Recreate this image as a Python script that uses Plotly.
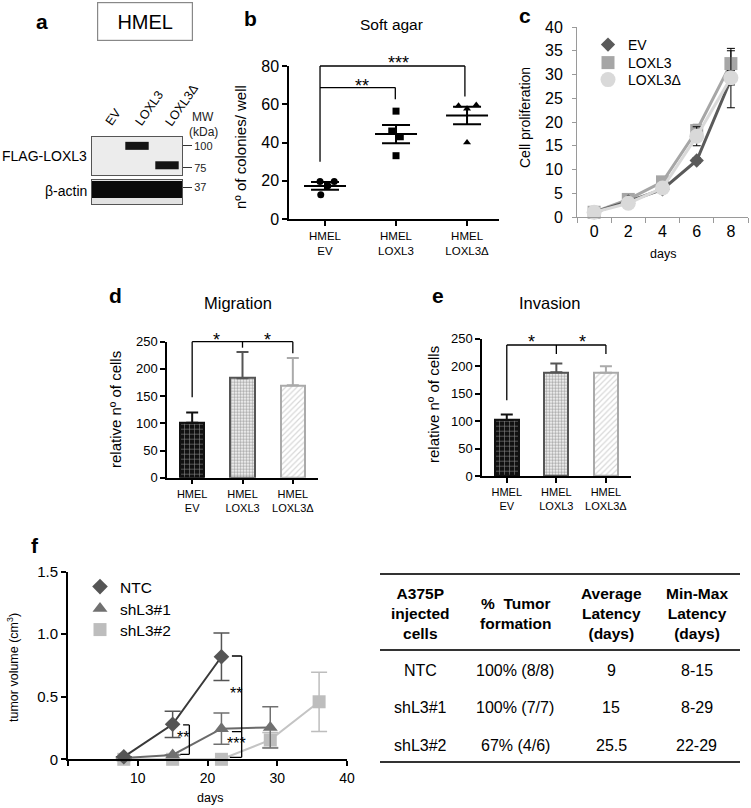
import plotly.graph_objects as go

W, H = 751, 808
FONT = "Liberation Sans, Arial, Helvetica, sans-serif"

# ---------------- data ----------------
# a: western blot
blot_lanes = ["EV", "LOXL3", "LOXL3Δ"]
flag_band_lanes = [1, 2]
flag_band_mw = [100, 78]
actin_band_mw = 36
flag_mw_ticks = [100, 75]
actin_mw_ticks = [37]

# b: soft agar
agar_labels = ["HMEL<br>EV", "HMEL<br>LOXL3", "HMEL<br>LOXL3Δ"]
agar_ev = [19.6, 19.6, 17.4, 12.7]
agar_loxl3 = [56.4, 46.0, 43.0, 33.1]
agar_delta = [59.2, 57.6, 59.6, 40.0]
agar_mean = [17.3, 44.4, 54.1]
agar_sem = [2.0, 4.8, 4.6]

# c: proliferation
prolif_days = [0, 2, 4, 6, 8]
prolif_ev = [1.0, 3.3, 5.8, 11.9, 29.0]
prolif_loxl3 = [1.0, 3.7, 7.4, 18.2, 32.3]
prolif_delta = [1.0, 2.9, 6.1, 17.0, 29.3]
prolif_ev_err = [0.1, 0.2, 0.3, 0.6, 6.0]
prolif_loxl3_err = [0.1, 0.2, 0.4, 1.3, 3.2]
prolif_delta_err = [0.1, 0.2, 0.3, 2.0, 1.5]

# d, e: migration / invasion
cell_labels = ["HMEL<br>EV", "HMEL<br>LOXL3", "HMEL<br>LOXL3Δ"]
migration_mean = [101, 183, 170]
migration_err = [19, 48, 50]
invasion_mean = [102, 189, 188]
invasion_err = [10, 16, 12]

# f: tumor growth
ntc_days = [8, 15, 22]
ntc_vol = [0.02, 0.28, 0.82]
ntc_err = [0.0, 0.105, 0.19]
sh1_days = [8, 15, 22, 29]
sh1_vol = [0.01, 0.035, 0.245, 0.255]
sh1_err = [0.0, 0.0, 0.125, 0.165]
sh2_days = [8, 15, 22, 29, 36]
sh2_vol = [0.0, 0.0, 0.0, 0.155, 0.46]
sh2_err = [0.0, 0.0, 0.0, 0.06, 0.237]

# f: table
table_header = ["A375P<br>injected<br>cells", "%  Tumor<br>formation",
                "Average<br>Latency<br>(days)", "Min-Max<br>Latency<br>(days)"]
table_rows = [["NTC", "100% (8/8)", "9", "8-15"],
              ["shL3#1", "100% (7/7)", "15", "8-29"],
              ["shL3#2", "67% (4/6)", "25.5", "22-29"]]


# ---------------- helpers ----------------
def dx(a, b):
    return [a / W, b / W]


def dy(top, bottom):
    return [1 - bottom / H, 1 - top / H]


def px(x):
    return x / W


def py(y):
    return 1 - y / H


def ax(**kw):
    base = dict(showline=True, linecolor="black", linewidth=1.5, ticks="outside",
                ticklen=5, tickwidth=1.5, tickcolor="black", showgrid=False,
                zeroline=False, fixedrange=True, automargin=False,
                tickfont=dict(size=12, color="black", family=FONT))
    base.update(kw)
    return base


fig = go.Figure()
annotations = []
shapes = []
legends = {}


def text(t, x, y, size=14, bold=False, **kw):
    d = dict(text=("<b>%s</b>" % t) if bold else t, x=x, y=y,
             xref=kw.pop("xref", "paper"), yref=kw.pop("yref", "paper"),
             xanchor=kw.pop("xanchor", "center"), yanchor=kw.pop("yanchor", "middle"),
             showarrow=False,
             font=dict(size=size, color=kw.pop("color", "black"), family=FONT))
    d.update(kw)
    annotations.append(d)


def star(t, x, y, xref, yref, size=18):
    text(t, x, y, size=size, xref=xref, yref=yref, yshift=-0.33 * size)


def seg(xref, yref, x0, y0, x1, y1, width=1.3, color="black"):
    shapes.append(dict(type="line", xref=xref, yref=yref, x0=x0, y0=y0, x1=x1, y1=y1,
                       line=dict(color=color, width=width)))


def legend_entry(idx, name, sym, size, col, xa, ya, lx, ly, fsize):
    lid = "legend" if idx == 1 else "legend%d" % idx
    fig.add_trace(go.Scatter(x=[None], y=[None], mode="markers", name=name,
                             marker=dict(symbol=sym, size=size, color=col),
                             xaxis=xa, yaxis=ya, legend=lid))
    legends[lid] = dict(x=px(lx), y=py(ly), xanchor="left", yanchor="middle",
                        bgcolor="rgba(0,0,0,0)", font=dict(size=fsize, family=FONT),
                        itemclick=False, itemdoubleclick=False)


# ---------------- a: western blot ----------------
shapes.append(dict(type="rect", xref="x6 domain", yref="y6 domain", x0=0, x1=1, y0=0, y1=1,
                   fillcolor="#ececec", line=dict(width=0), layer="below"))
shapes.append(dict(type="rect", xref="x7 domain", yref="y7 domain", x0=0, x1=1, y0=0, y1=1,
                   fillcolor="#e2e2e2", line=dict(width=0), layer="below"))
for lane, mw in zip(flag_band_lanes, flag_band_mw):
    fig.add_trace(go.Scatter(x=[lane - 0.39, lane + 0.39], y=[mw, mw], mode="lines",
                             line=dict(color="#141414", width=8), xaxis="x6", yaxis="y6",
                             showlegend=False, hoverinfo="skip"))
fig.add_trace(go.Scatter(x=[-0.5, len(blot_lanes) - 0.5], y=[actin_band_mw, actin_band_mw],
                         mode="lines", line=dict(color="#0a0a0a", width=17),
                         xaxis="x7", yaxis="y7", showlegend=False, hoverinfo="skip"))
for i, lab in enumerate(blot_lanes):
    text(lab, i, py(131), size=12.5, xref="x6", xanchor="left", yanchor="bottom",
         textangle=-55, xshift=-7)
text("HMEL", px(144.5), py(21), size=20, bordercolor="#888", borderwidth=1.2,
     width=92, height=35)
text("FLAG-LOXL3", px(89), py(156), size=14, xanchor="right")
text("β-actin", px(89), py(191), size=14, xanchor="right")
text("MW", px(203), py(117), size=12, color="#222")
text("(kDa)", px(203), py(132), size=12, color="#222")

# ---------------- b: soft agar ----------------
agar_sets = [(agar_ev, "circle"), (agar_loxl3, "square"), (agar_delta, "triangle-up")]
agar_jitter = [[-0.07, 0.13, 0.04, -0.06], [0.0, -0.06, 0.06, 0.0], [-0.12, 0.0, 0.13, 0.0]]
for i, (vals, sym) in enumerate(agar_sets):
    fig.add_trace(go.Scatter(x=[i + j for j in agar_jitter[i]], y=vals, mode="markers",
                             marker=dict(symbol=sym, size=7, color="black"),
                             xaxis="x", yaxis="y", showlegend=False, cliponaxis=False))
fig.add_trace(go.Scatter(x=[0, 1, 2], y=agar_mean, mode="markers",
                         marker=dict(symbol="line-ew", size=30, color="black",
                                     line=dict(width=2, color="black")),
                         error_y=dict(type="data", array=agar_sem, color="black",
                                      thickness=2, width=14),
                         xaxis="x", yaxis="y", showlegend=False))
# significance brackets (y in domain fraction of 0-80 axis)
bm = 80.0
seg("x", "y domain", -0.07, 80 / bm, 1.97, 80 / bm)
seg("x", "y domain", -0.07, 80 / bm, -0.07, 30 / bm)
seg("x", "y domain", 1.97, 80 / bm, 1.97, 64 / bm)
seg("x", "y domain", -0.07, 68.7 / bm, 0.99, 68.7 / bm)
seg("x", "y domain", 0.99, 68.7 / bm, 0.99, 62.6 / bm)
star("**", 0.52, 72.5 / bm, "x", "y domain")
star("***", 1.03, 84.5 / bm, "x", "y domain")
text("Soft agar", px(391), py(24), size=15.5)
text("nº of colonies/ well", px(240), py(147), size=15, textangle=-90)

# ---------------- c: proliferation ----------------
prolif_series = [("LOXL3", prolif_loxl3, prolif_loxl3_err, "square", "#a6a6a6", 13),
                 ("EV", prolif_ev, prolif_ev_err, "diamond", "#5a5a5a", 11),
                 ("LOXL3Δ", prolif_delta, prolif_delta_err, "circle", "#d9d9d9", 15)]
for name, vals, errs, sym, col, sz in prolif_series:
    fig.add_trace(go.Scatter(x=prolif_days, y=vals, mode="lines+markers", name=name,
                             line=dict(color=col, width=3),
                             marker=dict(symbol=sym, size=sz, color=col),
                             error_y=dict(type="data", array=errs, color="black",
                                          thickness=1, width=4),
                             xaxis="x2", yaxis="y2", showlegend=False, cliponaxis=False))
c_leg_y = [45, 63, 80]
for k, s in enumerate([prolif_series[1], prolif_series[0], prolif_series[2]]):
    legend_entry(k + 1, s[0], s[3], s[5], s[4], "x2", "y2", 588, c_leg_y[k], 14)
text("Cell proliferation", px(525), py(118), size=14, textangle=-90)
text("days", px(663), py(254), size=12.5)

# ---------------- d, e: bar charts ----------------
bar_styles = [
    dict(line="#111111", err="#111111",
         pattern=dict(shape="+", bgcolor="#111111", fgcolor="white", size=5, solidity=0.22)),
    dict(line="#555555", err="#555555",
         pattern=dict(shape=".", bgcolor="white", fgcolor="#555555", size=3, solidity=0.55)),
    dict(line="#aaaaaa", err="#aaaaaa",
         pattern=dict(shape="/", bgcolor="white", fgcolor="#b0b0b0", size=4, solidity=0.3)),
]
for (means, errs, xa, ya) in [(migration_mean, migration_err, "x3", "y3"),
                              (invasion_mean, invasion_err, "x4", "y4")]:
    for i, st in enumerate(bar_styles):
        fig.add_trace(go.Bar(x=[i], y=[means[i]], width=0.48,
                             marker=dict(color="white", line=dict(color=st["line"], width=2),
                                         pattern=st["pattern"]),
                             error_y=dict(type="data", symmetric=False, array=[errs[i]],
                                          arrayminus=[0], color=st["err"], thickness=2,
                                          width=6),
                             xaxis=xa, yaxis=ya, showlegend=False))

dm = 250.0
seg("x3", "y3 domain", 0, 250 / dm, 2, 250 / dm)
seg("x3", "y3 domain", 0, 250 / dm, 0, 147.7 / dm)
seg("x3", "y3 domain", 1, 250 / dm, 1, 239 / dm)
seg("x3", "y3 domain", 2, 250 / dm, 2, 228.6 / dm)
star("*", 0.48, 264 / dm, "x3", "y3 domain")
star("*", 1.5, 264 / dm, "x3", "y3 domain")
text("Migration", px(238), py(303), size=16.5)
text("relative nº of cells", px(115), py(410), size=15, textangle=-90)

seg("x4", "y4 domain", 0, 238.5 / dm, 2, 238.5 / dm)
seg("x4", "y4 domain", 0, 238.5 / dm, 0, 138 / dm)
seg("x4", "y4 domain", 1, 238.5 / dm, 1, 222 / dm)
seg("x4", "y4 domain", 2, 238.5 / dm, 2, 222 / dm)
star("*", 0.5, 255 / dm, "x4", "y4 domain")
star("*", 1.52, 255 / dm, "x4", "y4 domain")
text("Invasion", px(549), py(303), size=16.5)
text("relative nº of cells", px(433), py(405), size=15, textangle=-90)

# ---------------- f: tumor volume ----------------
tumor_series = [("shL3#2", sh2_days, sh2_vol, sh2_err, "square", "#bdbdbd", "#c4c4c4", 13),
                ("shL3#1", sh1_days, sh1_vol, sh1_err, "triangle-up", "#707070", "#6a6a6a", 13),
                ("NTC", ntc_days, ntc_vol, ntc_err, "diamond", "#555555", "#3a3a3a", 12)]
for name, xs, ys, es, sym, col, lcol, sz in tumor_series:
    fig.add_trace(go.Scatter(x=xs, y=ys, mode="lines+markers", name=name,
                             line=dict(color=lcol, width=2),
                             marker=dict(symbol=sym, size=sz, color=col),
                             error_y=dict(type="data", array=es, color=col, thickness=1.5,
                                          width=8),
                             xaxis="x5", yaxis="y5", showlegend=False, cliponaxis=False))
f_leg_y = [587, 609, 630]
for k, s in enumerate(tumor_series[::-1]):
    legend_entry(k + 4, s[0], s[4], s[7], s[5], "x5", "y5", 80, f_leg_y[k], 15.5)
# significance brackets
seg("x5", "y5", 16.5, 0.275, 17.4, 0.275)
seg("x5", "y5", 17.4, 0.275, 17.4, 0.04)
seg("x5", "y5", 16.1, 0.04, 17.4, 0.04)
seg("x5", "y5", 23.5, 0.826, 24.9, 0.826)
seg("x5", "y5", 24.9, 0.826, 24.9, 0.016)
seg("x5", "y5", 23.2, 0.016, 24.9, 0.016)
seg("x5", "y5", 23.5, 0.221, 24.9, 0.221)
star("**", 16.5, 0.22, "x5", "y5", size=16)
star("**", 24.1, 0.567, "x5", "y5", size=16)
star("***", 24.1, 0.168, "x5", "y5", size=16)
text("tumor volume (cm<sup>3</sup>)", px(13), py(668), size=12.5, textangle=-90)
text("days", px(210), py(798), size=12.5)

# table
for yy in (574, 650, 762):
    shapes.append(dict(type="line", xref="paper", yref="paper", x0=px(380), x1=px(740),
                       y0=py(yy), y1=py(yy), line=dict(color="#333333", width=2)))
col_x = [420.7, 515, 611, 696.7]
row_y = [670, 707, 745]
for c, h in enumerate(table_header):
    text(h, px(col_x[c]), py(613), size=15.5, bold=True)
for r, row in enumerate(table_rows):
    for c, v in enumerate(row):
        text(v, px(col_x[c]), py(row_y[r]), size=16)

# panel letters
for lab, (xx, yy) in zip("abcdef", [(42, 21), (250, 18), (525, 15), (115, 295),
                                    (438, 295), (35, 545)]):
    text(lab, px(xx), py(yy), size=21, bold=True)

fig.update_layout(
    width=W, height=H, autosize=False,
    margin=dict(l=0, r=0, t=0, b=0, pad=0, autoexpand=False),
    paper_bgcolor="white", plot_bgcolor="white",
    font=dict(family=FONT, color="black"),
    showlegend=True,
    annotations=annotations, shapes=shapes,
    # b
    xaxis=ax(domain=dx(289, 499), range=[-0.507, 2.45], anchor="y", tickmode="array",
             tickvals=[0, 1, 2], ticktext=agar_labels, tickfont=dict(size=11.5, family=FONT)),
    yaxis=ax(domain=dy(66, 219), range=[0, 80], anchor="x", dtick=20,
             tickfont=dict(size=16, family=FONT)),
    # c
    xaxis2=ax(domain=dx(577, 748), range=[-1, 9], anchor="y2", tickmode="array",
              tickvals=prolif_days, ticks="", linecolor="#9a9a9a", linewidth=1,
              tickfont=dict(size=16, family=FONT),
              minor=dict(tickmode="array", tickvals=[-1, 1, 3, 5, 7, 9], ticks="outside",
                         ticklen=5, tickcolor="#9a9a9a", tickwidth=1)),
    yaxis2=ax(domain=dy(27, 217), range=[0, 40], anchor="x2", dtick=5,
              linecolor="#9a9a9a", linewidth=1, ticklen=4, tickcolor="#9a9a9a", tickwidth=1,
              ticklabelstandoff=6, tickfont=dict(size=16, family=FONT)),
    # d
    xaxis3=ax(domain=dx(167, 318), range=[-0.5, 2.5], anchor="y3", tickmode="array",
              tickvals=[0, 1, 2], ticktext=cell_labels, tickfont=dict(size=11, family=FONT)),
    yaxis3=ax(domain=dy(341.7, 477.7), range=[0, 250], anchor="x3", dtick=50,
              tickfont=dict(size=13, family=FONT)),
    # e
    xaxis4=ax(domain=dx(482, 630.7), range=[-0.5, 2.5], anchor="y4", tickmode="array",
              tickvals=[0, 1, 2], ticktext=cell_labels, tickfont=dict(size=11, family=FONT)),
    yaxis4=ax(domain=dy(338.7, 476), range=[0, 250], anchor="x4", dtick=50,
              tickfont=dict(size=13, family=FONT)),
    # f
    xaxis5=ax(domain=dx(68, 347), range=[0, 40], anchor="y5", tickmode="array",
              tickvals=[0, 10, 20, 30, 40], ticktext=[" ", "10", "20", "30", "40"],
              linewidth=2, tickwidth=2, tickfont=dict(size=14, family=FONT)),
    yaxis5=ax(domain=dy(571.7, 759.3), range=[0, 1.5], anchor="x5", tickmode="array",
              tickvals=[0, 0.5, 1.0, 1.5], ticktext=["0", "0.5", "1.0", "1.5"],
              linewidth=2, tickwidth=2, tickfont=dict(size=15, family=FONT)),
    # blot
    xaxis6=dict(domain=dx(92, 182), range=[-0.5, 2.5], anchor="y6", showticklabels=False,
                ticks="", showline=True, mirror=True, linecolor="#555", linewidth=1,
                showgrid=False, zeroline=False, fixedrange=True),
    yaxis6=dict(domain=dy(137, 175), range=[67, 110], anchor="x6", side="right",
                tickmode="array", tickvals=flag_mw_ticks, ticks="outside", ticklen=9,
                tickcolor="#333", tickwidth=1, showline=True, mirror=True,
                linecolor="#555", linewidth=1, showgrid=False, zeroline=False,
                fixedrange=True, tickfont=dict(size=11, color="#222", family=FONT)),
    xaxis7=dict(domain=dx(92, 182), range=[-0.5, 2.5], anchor="y7", showticklabels=False,
                ticks="", showline=True, mirror=True, linecolor="#555", linewidth=1,
                showgrid=False, zeroline=False, fixedrange=True),
    yaxis7=dict(domain=dy(180, 204), range=[30, 40], anchor="x7", side="right",
                tickmode="array", tickvals=actin_mw_ticks, ticks="outside", ticklen=9,
                tickcolor="#333", tickwidth=1, showline=True, mirror=True,
                linecolor="#555", linewidth=1, showgrid=False, zeroline=False,
                fixedrange=True, tickfont=dict(size=11, color="#222", family=FONT)),
    bargap=0,
    **legends,
)

fig.write_html("out.html", config={"displayModeBar": False},
               post_script="document.body.style.margin='0px';")
